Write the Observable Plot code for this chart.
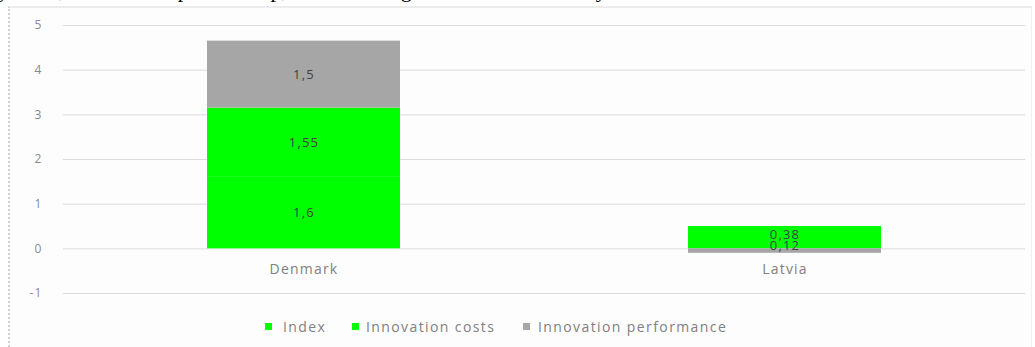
<!DOCTYPE html>
<html>
<head>
<meta charset="utf-8">
<script src="https://cdn.jsdelivr.net/npm/d3@7"></script>
<script src="https://cdn.jsdelivr.net/npm/@observablehq/plot@0.6"></script>
<style>
  html, body { margin: 0; padding: 0; background: #fff; }
  #page { position: relative; width: 1035px; height: 347px; overflow: hidden; background: #fff; }
  #toptext { position: absolute; left: 0; top: 0; width: 1035px; height: 6px; overflow: hidden; }
  #toptext span { position: absolute; left: -2px; top: -21px; white-space: nowrap; font-family: "Liberation Serif", serif; font-size: 22px; line-height: 22px; color: #000; }
  #frame { position: absolute; left: 8px; top: 6px; width: 1024px; height: 345px; border-left: 2px dotted #d0d0d0; border-top: 2px solid #ececec; border-right: 1px solid #f0f0f0; background: #fdfdfd; box-sizing: border-box; }
  #chart { position: absolute; left: 0; top: 0; }
  #chart text { letter-spacing: 1.2px; }
  #legend { position: absolute; left: 0; top: 318px; width: 1035px; height: 18px; font-family: "Open Sans", sans-serif; font-size: 14px; letter-spacing: 1.4px; color: #808080; }
  .item { position: absolute; top: 0; white-space: nowrap; line-height: 18px; }
  .sw { display: inline-block; width: 7px; height: 7px; vertical-align: 2px; }
</style>
</head>
<body>
<div id="page">
  <div id="toptext"><span>ystems, its and entrepreneurship, as well as high economic efficiency in the introduction of innovations. Slov</span></div>
  <div id="frame"></div>
  <div id="chart"></div>
  <div id="legend"></div>
</div>
<script>
// Data
const countries = ["Denmark", "Latvia"];
const series = ["Index", "Innovation costs", "Innovation performance"];
const colors = ["#00ff00", "#00ff00", "#a6a6a6"];
const indexValues = [1.6, 0.12];
const costValues = [1.55, 0.38];
const performanceValues = [1.5, -0.1];
const showLabel = [[true, true], [true, true], [true, false]]; // [series][country]
const yTicks = [-1, 0, 1, 2, 3, 4, 5];

const seriesValues = [indexValues, costValues, performanceValues];
const rows = [];
series.forEach((s, si) => {
  countries.forEach((c, ci) => {
    const v = seriesValues[si][ci];
    rows.push({
      country: c,
      series: s,
      order: si,
      value: v,
      label: showLabel[si][ci] ? String(Math.abs(v)).replace(".", ",") : ""
    });
  });
});

const font = '"Open Sans", sans-serif';

const chart = Plot.plot({
  width: 1035,
  height: 310,
  marginTop: 25,
  marginBottom: 17,
  marginLeft: 63,
  marginRight: 10,
  style: { background: "transparent", fontFamily: font, fontSize: "12px", color: "#8a8a8a" },
  x: { domain: countries, padding: 0, axis: null },
  y: { domain: [-1, 5], ticks: yTicks, tickSize: 0, tickPadding: 21, label: null, tickFormat: d => String(d) },
  color: { domain: series, range: colors },
  marks: [
    Plot.ruleY(yTicks, { stroke: "#dcdcdc", strokeWidth: 1 }),
    Plot.barY(rows, Plot.stackY({
      x: "country", y: "value", z: "series", order: "order",
      fill: "series", insetLeft: 144, insetRight: 144
    })),
    Plot.text(rows, Plot.stackY({
      x: "country", y: "value", z: "series", order: "order",
      text: "label", fill: "#404040", fontSize: 13, fontFamily: font
    })),
    Plot.text(countries, {
      x: d => d, y: () => 0, text: d => d, dy: 21,
      fill: "#808080", fontSize: 14, fontFamily: font
    })
  ]
});
document.getElementById("chart").appendChild(chart);

// Legend
const legend = document.getElementById("legend");
const legendLeft = [265, 352, 523];
const legendGap = [11, 7, 8];
series.forEach((s, i) => {
  const item = document.createElement("div");
  item.className = "item";
  item.style.left = legendLeft[i] + "px";
  const sw = document.createElement("span");
  sw.className = "sw";
  sw.style.background = colors[i];
  sw.style.marginRight = legendGap[i] + "px";
  item.appendChild(sw);
  item.appendChild(document.createTextNode(s));
  legend.appendChild(item);
});
</script>
</body>
</html>
